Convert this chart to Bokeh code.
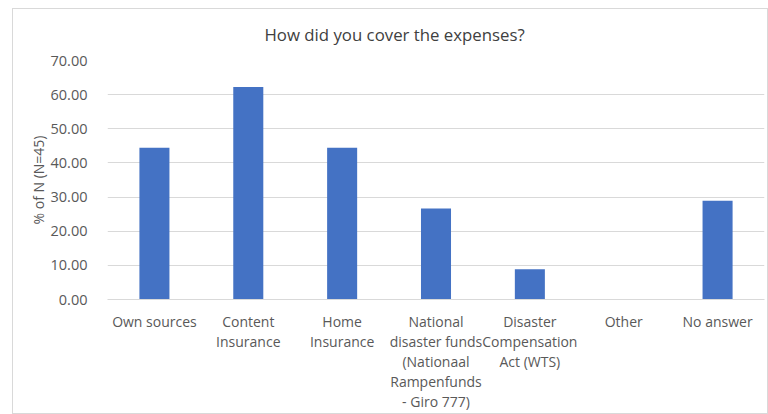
from bokeh.plotting import figure
from bokeh.embed import file_html
from bokeh.resources import INLINE
from bokeh.models import ColumnDataSource, PrintfTickFormatter, FixedTicker, Title, Range1d

categories = ["Own sources", "Content\nInsurance", "Home\nInsurance",
              "National\ndisaster funds\n(Nationaal\nRampenfunds\n- Giro 777)",
              "Disaster\nCompensation\nAct (WTS)", "Other", "No answer"]
values = [44.44, 62.22, 44.44, 26.67, 8.89, 0.0, 28.89]
y_ticks = [0, 10, 20, 30, 40, 50, 60, 70]

src = ColumnDataSource(dict(cat=categories, val=values))

FONT = "Open Sans"
GREY = "#595959"

p = figure(x_range=categories, y_range=Range1d(0, 70), width=756, height=406,
           output_backend="svg", toolbar_location=None,
           min_border_left=94, min_border_right=5, min_border_top=51, min_border_bottom=116)
p.styles = {"margin-left": "12px", "margin-top": "8px", "border": "1px solid #d9d9d9"}

p.vbar(x="cat", top="val", width=0.32, source=src, color="#4472C4", line_color=None)

t = Title(text="How did you cover the expenses?", align="left", text_font=FONT,
          text_font_size="16.8px", text_font_style="normal", text_color="#404040",
          vertical_align="top", offset=157, standoff=26)
p.add_layout(t, "above")

p.outline_line_color = None
p.xgrid.grid_line_color = None
p.ygrid.grid_line_color = "#d9d9d9"
p.yaxis.ticker = FixedTicker(ticks=y_ticks)
p.yaxis.formatter = PrintfTickFormatter(format="%.2f")
p.yaxis.axis_line_color = None
p.yaxis.major_tick_line_color = None
p.yaxis.minor_tick_line_color = None
p.yaxis.major_label_text_font = FONT
p.yaxis.major_label_text_font_size = "14.5px"
p.yaxis.major_label_text_color = GREY
p.yaxis.axis_label = "% of N (N=45)"
p.yaxis.axis_label_text_font = FONT
p.yaxis.axis_label_text_font_size = "14px"
p.yaxis.axis_label_text_font_style = "normal"
p.yaxis.axis_label_text_color = GREY
p.yaxis.major_label_standoff = 14
p.yaxis.axis_label_standoff = 0

p.xaxis.axis_line_color = "#d9d9d9"
p.xaxis.major_tick_line_color = None
p.xaxis.minor_tick_line_color = None
p.xaxis.major_label_text_font = FONT
p.xaxis.major_label_text_font_size = "14px"
p.xaxis.major_label_text_line_height = 1.06
p.xaxis.major_label_text_color = GREY
p.xaxis.major_label_standoff = 6
p.x_range.range_padding = 0

open("out.html", "w").write(file_html(p, INLINE))
